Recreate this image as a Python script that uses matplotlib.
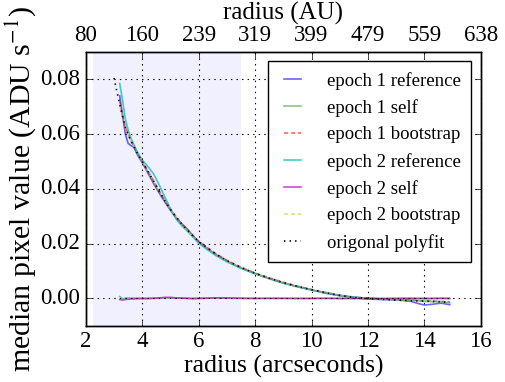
import matplotlib
matplotlib.use("Agg")
import matplotlib.pyplot as plt

plt.style.use("classic")
plt.rcParams["font.family"] = ["Liberation Serif", "DejaVu Serif"]
plt.rcParams["mathtext.fontset"] = "stix"
plt.rcParams["figure.facecolor"] = "white"
plt.rcParams["savefig.facecolor"] = "white"

# ---- data ----
radius = [3.2, 3.3, 3.4, 3.5, 3.6, 3.7, 3.8, 3.9, 4.0, 4.2, 4.4, 4.6, 4.8, 5.0,
          5.2, 5.4, 5.6, 5.8, 6.0, 6.3, 6.6, 7.0, 7.5, 8.0, 8.5, 9.0, 9.5, 10.0,
          10.5, 11.0, 11.5, 12.0, 12.5, 13.0, 13.5, 13.8, 14.0, 14.3, 14.6, 14.9]

e1_reference = [0.0740, 0.0670, 0.0600, 0.0566, 0.0558, 0.0553, 0.0530, 0.0512, 0.0496,
                0.0458, 0.0420, 0.0385, 0.0352, 0.0322, 0.0294, 0.0272, 0.0253, 0.0229,
                0.0206, 0.0183, 0.0161, 0.0137, 0.0111, 0.0091, 0.0073, 0.0056, 0.0043,
                0.0031, 0.0019, 0.0010, 0.0003, -0.0002, -0.0004, -0.0005, -0.0010,
                -0.0019, -0.0024, -0.0021, -0.0017, -0.0023]

e1_self = [0.0007, -0.0001, 0.0001, 0.0002, 0.0001, 0.0002, 0.0001, 0.0, -0.0001,
           -0.0002, 0.0, 0.0001, 0.0002, 0.0002, 0.0001, 0.0002, 0.0001, -0.0001,
           -0.0001, 0.0001, 0.0002, 0.0001, 0.0, 0.0, 0.0001, 0.0001, 0.0, 0.0,
           0.0001, 0.0, 0.0, 0.0, -0.0001, 0.0, 0.0001, 0.0, -0.0001, 0.0, 0.0001, 0.0]

e1_bootstrap = [0.0720, 0.0668, 0.0628, 0.0600, 0.0576, 0.0556, 0.0537, 0.0518, 0.0502,
                0.0466, 0.0430, 0.0393, 0.0358, 0.0326, 0.0298, 0.0273, 0.0250, 0.0229,
                0.0209, 0.0186, 0.0164, 0.0139, 0.0114, 0.0093, 0.0075, 0.0059, 0.0045,
                0.0033, 0.0022, 0.0012, 0.0005, 0.0001, -0.0002, -0.0004, -0.0006,
                -0.0008, -0.0009, -0.0010, -0.0011, -0.0012]

e2_reference = [0.0785, 0.0725, 0.0655, 0.0615, 0.0585, 0.0562, 0.0540, 0.0522, 0.0505,
                0.0482, 0.0455, 0.0415, 0.0370, 0.0328, 0.0290, 0.0265, 0.0246, 0.0224,
                0.0202, 0.0178, 0.0157, 0.0134, 0.0110, 0.0090, 0.0072, 0.0056, 0.0043,
                0.0031, 0.0021, 0.0012, 0.0005, 0.0001, -0.0002, -0.0004, -0.0006,
                -0.0008, -0.0010, -0.0011, -0.0012, -0.0016]

e2_self = [-0.0004, -0.0006, -0.0004, -0.0003, -0.0002, -0.0002, -0.0001, 0.0, 0.0,
           0.0001, 0.0001, 0.0002, 0.0004, 0.0004, 0.0002, 0.0001, 0.0, 0.0, 0.0001,
           0.0001, 0.0002, 0.0002, 0.0001, 0.0, 0.0, 0.0, 0.0, 0.0, 0.0, 0.0, 0.0,
           0.0, 0.0, 0.0, 0.0, 0.0, 0.0, 0.0, 0.0, 0.0]

e2_bootstrap = [0.0705, 0.0662, 0.0622, 0.0596, 0.0573, 0.0553, 0.0534, 0.0516, 0.0499,
                0.0463, 0.0427, 0.0391, 0.0356, 0.0324, 0.0296, 0.0271, 0.0248, 0.0227,
                0.0207, 0.0184, 0.0162, 0.0137, 0.0112, 0.0091, 0.0073, 0.0057, 0.0043,
                0.0031, 0.0020, 0.0011, 0.0004, 0.0000, -0.0003, -0.0005, -0.0007,
                -0.0009, -0.0011, -0.0012, -0.0013, -0.0015]

polyfit_radius = [3.0, 3.1, 3.2, 3.3, 3.4, 3.5, 3.6, 3.7, 3.8, 3.9, 4.0, 4.2, 4.4, 4.6,
                  4.8, 5.0, 5.2, 5.4, 5.6, 5.8, 6.0, 6.3, 6.6, 7.0, 7.5, 8.0, 8.5, 9.0,
                  9.5, 10.0, 10.5, 11.0, 11.5, 12.0, 12.5, 13.0, 13.5, 13.8, 14.0, 14.3,
                  14.6, 14.9]
polyfit_values = [0.0805, 0.0755, 0.0710, 0.0665, 0.0625, 0.0598, 0.0575, 0.0555, 0.0535,
                  0.0517, 0.0500, 0.0464, 0.0428, 0.0392, 0.0357, 0.0325, 0.0297, 0.0272,
                  0.0249, 0.0228, 0.0208, 0.0185, 0.0163, 0.0138, 0.0113, 0.0092, 0.0074,
                  0.0058, 0.0044, 0.0032, 0.0021, 0.0011, 0.0004, 0.0000, -0.0003,
                  -0.0006, -0.0008, -0.0009, -0.0010, -0.0011, -0.0012, -0.0014]

shade_range = (2.25, 7.5)
x_ticks = [2, 4, 6, 8, 10, 12, 14, 16]
au_labels = ["80", "160", "239", "319", "399", "479", "559", "638"]
y_ticks = [0.00, 0.02, 0.04, 0.06, 0.08]

# ---- figure ----
fig = plt.figure(figsize=(5.05, 3.82), dpi=100)
ax = fig.add_axes([0.170, 0.147, 0.782, 0.717])

ax.axvspan(shade_range[0], shade_range[1], color="b", alpha=0.06, lw=0, zorder=0)

ax.plot(radius, e1_reference, color="b", alpha=0.6, lw=1.2, label="epoch 1 reference")
ax.plot(radius, e1_self, color="g", alpha=0.45, lw=1.2, label="epoch 1 self")
ax.plot(radius, e1_bootstrap, color="r", ls="--", dashes=(3, 2), alpha=0.6, lw=1.2,
        label="epoch 1 bootstrap")
ax.plot(radius, e2_reference, color="c", alpha=0.75, lw=1.2, label="epoch 2 reference")
ax.plot(radius, e2_self, color="m", alpha=0.7, lw=1.2, label="epoch 2 self")
ax.plot(radius, e2_bootstrap, color="y", ls="--", dashes=(3, 2), alpha=0.5, lw=1.2,
        label="epoch 2 bootstrap")
ax.plot(polyfit_radius, polyfit_values, color="k", ls=":", lw=1.2, label="origonal polyfit")

ax.set_xlim(2, 16)
ax.set_ylim(-0.01, 0.09)
ax.set_xticks(x_ticks)
ax.set_yticks(y_ticks)
ax.set_yticklabels([f"{v:.2f}" for v in y_ticks])
ax.grid(True, color="k", ls=":", lw=0.8)
ax.tick_params(labelsize=16.5, top=False)
ax.set_xlabel("radius (arcseconds)", fontsize=18.5, labelpad=2)
ax.set_ylabel("median pixel value (ADU s$^{-1}$)", fontsize=21.5, labelpad=2)

ax2 = ax.twiny()
ax2.set_xlim(ax.get_xlim())
ax2.set_xticks(x_ticks)
ax2.set_xticklabels(au_labels)
ax2.tick_params(labelsize=16.5)
ax2.set_xlabel("radius (AU)", fontsize=18, labelpad=4)

leg = ax.legend(loc="upper right", fontsize=13.5, handlelength=1.5, handletextpad=1.1,
                borderpad=0.55, labelspacing=0.5, borderaxespad=0.5, frameon=True)
leg.get_frame().set_edgecolor("k")
leg.get_frame().set_linewidth(1.0)

fig.savefig("out.png", dpi=100)
